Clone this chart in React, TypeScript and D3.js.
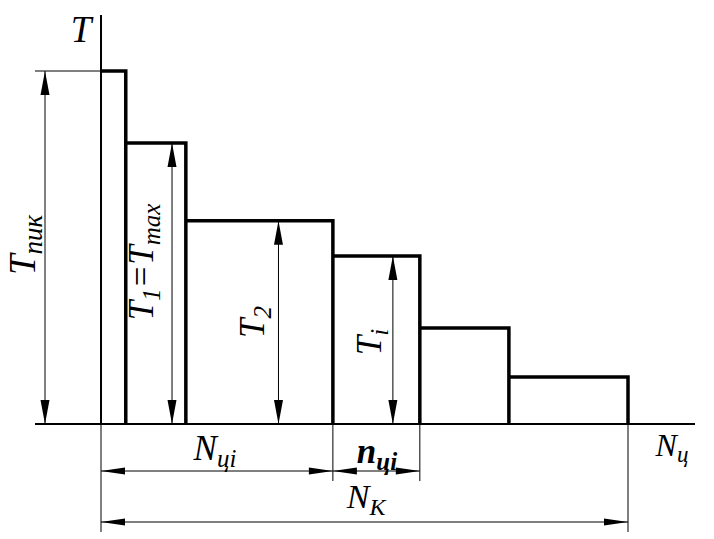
import React from 'react';
import * as d3 from 'd3';

// step load diagram: duration of each step (cycles, % of N_K) and its torque (% of T_пик)
const stepDurations = [4.7, 11.4, 27.9, 16.5, 16.9, 22.6];
const stepLoads = [100, 79.6, 57.6, 47.6, 27.2, 13.3];

// vertical dimension lines: which step, where inside it, and its label parts
type Part = [string, boolean];
const loadDims: { step: number; at: number; cy: number; off: number; parts: Part[] }[] = [
  { step: 1, at: 0.77, cy: 262, off: 19, parts: [['T', false], ['1', true], ['=', false], ['T', false], ['max', true]] },
  { step: 2, at: 0.63, cy: 322, off: 14, parts: [['T', false], ['2', true]] },
  { step: 3, at: 0.69, cy: 342, off: 12, parts: [['T', false], ['i', true]] },
];

const W = 714;
const H = 539;
const FONT = 'Liberation Serif';

const x = d3.scaleLinear().domain([0, 100]).range([101, 628]);
const y = d3.scaleLinear().domain([0, 100]).range([424, 71]);
const ends = d3.cumsum(stepDurations);
const starts = Array.from(ends, (e, i) => e - stepDurations[i]);
const y0 = y(0);

function Arrow({ tx, ty, dx, dy, len = 24, half = 4.5 }: { tx: number; ty: number; dx: number; dy: number; len?: number; half?: number }) {
  const bx = tx - dx * len;
  const by = ty - dy * len;
  const px = -dy * half;
  const py = dx * half;
  return <path d={`M${tx},${ty}L${bx + px},${by + py}L${bx - px},${by - py}Z`} fill="#000" />;
}

function Line({ x1, y1, x2, y2, w = 1 }: { x1: number; y1: number; x2: number; y2: number; w?: number }) {
  return <line x1={x1} y1={y1} x2={x2} y2={y2} stroke="#000" strokeWidth={w} />;
}

function VDim({ px, top, bottom }: { px: number; top: number; bottom: number }) {
  return (
    <g>
      <Line x1={px} y1={top} x2={px} y2={bottom} />
      <Arrow tx={px} ty={top} dx={0} dy={-1} />
      <Arrow tx={px} ty={bottom} dx={0} dy={1} />
    </g>
  );
}

function HDim({ left, right, py }: { left: number; right: number; py: number }) {
  return (
    <g>
      <Line x1={left} y1={py} x2={right} y2={py} />
      <Arrow tx={left} ty={py} dx={-1} dy={0} half={3.5} />
      <Arrow tx={right} ty={py} dx={1} dy={0} half={3.5} />
    </g>
  );
}

function Label({ tx, ty, parts, size, rotate = false, bold = false }: { tx: number; ty: number; parts: Part[]; size: number; rotate?: boolean; bold?: boolean }) {
  const sub = Math.round(size * 0.72);
  const shift = size * 0.2;
  let low = false;
  return (
    <text
      transform={`translate(${tx},${ty})${rotate ? ' rotate(-90)' : ''}`}
      fontFamily={FONT}
      fontStyle="italic"
      fontWeight={bold ? 'bold' : undefined}
      fontSize={size}
      textAnchor="middle"
    >
      {parts.map(([s, isSub], i) => {
        let dy: number | undefined;
        if (isSub && !low) dy = shift;
        if (!isSub && low) dy = -shift;
        low = isSub;
        return (
          <tspan key={i} dy={dy} fontFamily={FONT} fontSize={isSub ? sub : size}>
            {s}
          </tspan>
        );
      })}
    </text>
  );
}

export default function App() {
  const stepPath = d3.path();
  stepLoads.forEach((t, i) => {
    stepPath.moveTo(x(starts[i]), y(t));
    stepPath.lineTo(x(ends[i]), y(t));
    stepPath.lineTo(x(ends[i]), y0);
  });

  const iEnd = ends[2];
  const nEnd = ends[3];
  const kEnd = ends[ends.length - 1];

  return (
    <svg width={W} height={H} style={{ position: 'absolute', left: 0, top: 0, background: '#fff' }}>
      {/* axes */}
      <Line x1={101} y1={15} x2={101} y2={y0} w={2} />
      <Line x1={35} y1={y0} x2={695} y2={y0} w={2} />

      {/* steps */}
      <path d={stepPath.toString()} fill="none" stroke="#000" strokeWidth={3.5} />

      {/* peak dimension */}
      <Line x1={35} y1={y(stepLoads[0])} x2={101} y2={y(stepLoads[0])} />
      <VDim px={45} top={y(stepLoads[0])} bottom={y0} />

      {loadDims.map(d => (
        <VDim key={d.step} px={x(starts[d.step] + d.at * stepDurations[d.step])} top={y(stepLoads[d.step])} bottom={y0} />
      ))}

      {/* horizontal dimensions */}
      <Line x1={x(0)} y1={y0} x2={x(0)} y2={532} />
      <Line x1={x(iEnd)} y1={y0} x2={x(iEnd)} y2={481} />
      <Line x1={x(nEnd)} y1={y0} x2={x(nEnd)} y2={481} />
      <Line x1={x(kEnd)} y1={y0} x2={x(kEnd)} y2={532} />
      <HDim left={x(0)} right={x(iEnd)} py={471} />
      <HDim left={x(iEnd)} right={x(nEnd)} py={471} />
      <HDim left={x(0)} right={x(kEnd)} py={522} />

      {/* labels */}
      <Label tx={81} ty={42} parts={[['T', false]]} size={37} />
      <Label tx={35} ty={245} parts={[['T', false], ['пик', true]]} size={37} rotate />
      {loadDims.map(d => (
        <Label
          key={d.step}
          tx={x(starts[d.step] + d.at * stepDurations[d.step]) - d.off}
          ty={d.cy}
          parts={d.parts}
          size={35}
          rotate
        />
      ))}
      <Label tx={215} ty={460} parts={[['N', false], ['цi', true]]} size={35} />
      <Label tx={377} ty={463} parts={[['n', false], ['цi', true]]} size={35} bold />
      <Label tx={366} ty={508} parts={[['N', false], ['К', true]]} size={34} />
      <Label tx={672} ty={456} parts={[['N', false], ['ц', true]]} size={32} />
    </svg>
  );
}
